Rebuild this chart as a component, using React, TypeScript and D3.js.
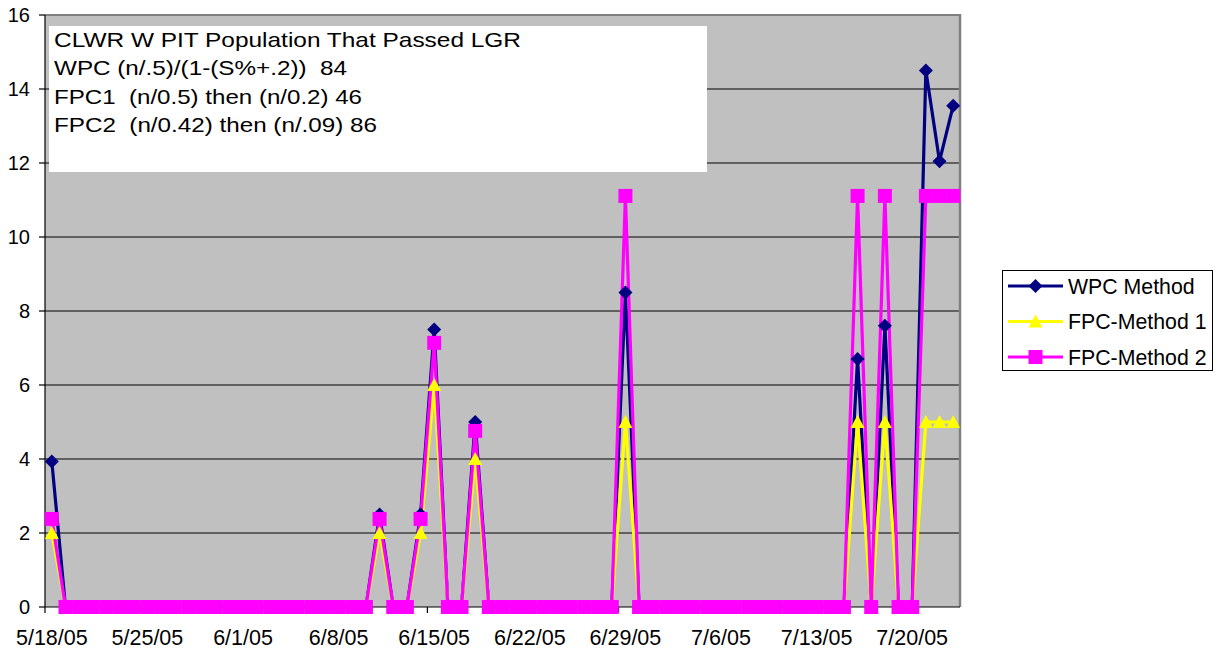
import React from "react";
import * as d3 from "d3";

// daily values, 5/18/05 .. 7/23/05
const startDate = "5/18/05";

const wpc = [
  3.93, 0, 0, 0, 0, 0, 0, 0, 0, 0,
  0, 0, 0, 0, 0, 0, 0, 0, 0, 0,
  0, 0, 0, 0, 2.5, 0, 0, 2.5, 7.5, 0,
  0, 5.0, 0, 0, 0, 0, 0, 0, 0, 0,
  0, 0, 8.5, 0, 0, 0, 0, 0, 0, 0,
  0, 0, 0, 0, 0, 0, 0, 0, 0, 6.7,
  0, 7.6, 0, 0, 14.5, 12.05, 13.55,
];

const fpc1 = [
  2, 0, 0, 0, 0, 0, 0, 0, 0, 0,
  0, 0, 0, 0, 0, 0, 0, 0, 0, 0,
  0, 0, 0, 0, 2, 0, 0, 2, 6, 0,
  0, 4, 0, 0, 0, 0, 0, 0, 0, 0,
  0, 0, 5, 0, 0, 0, 0, 0, 0, 0,
  0, 0, 0, 0, 0, 0, 0, 0, 0, 5,
  0, 5, 0, 0, 5, 5, 5,
];

const fpc2 = [
  2.38, 0, 0, 0, 0, 0, 0, 0, 0, 0,
  0, 0, 0, 0, 0, 0, 0, 0, 0, 0,
  0, 0, 0, 0, 2.38, 0, 0, 2.38, 7.14, 0,
  0, 4.76, 0, 0, 0, 0, 0, 0, 0, 0,
  0, 0, 11.11, 0, 0, 0, 0, 0, 0, 0,
  0, 0, 0, 0, 0, 0, 0, 0, 0, 11.11,
  0, 11.11, 0, 0, 11.11, 11.11, 11.11,
];

const xTickLabels = ["5/18/05", "5/25/05", "6/1/05", "6/8/05", "6/15/05", "6/22/05", "6/29/05", "7/6/05", "7/13/05", "7/20/05"];
const yTicks = [0, 2, 4, 6, 8, 10, 12, 14, 16];

const noteLines = [
  "CLWR W PIT Population That Passed LGR",
  "WPC (n/.5)/(1-(S%+.2))  84",
  "FPC1  (n/0.5) then (n/0.2) 46",
  "FPC2  (n/0.42) then (n/.09) 86",
];
const noteWidths = [467, 293, 308, 323];

const seriesNames = ["WPC Method", "FPC-Method 1", "FPC-Method 2"];
const seriesColors = ["#000080", "#FFFF00", "#FF00FF"];

const FONT = "'Liberation Sans', Arial, sans-serif";

const parse = d3.timeParse("%m/%d/%y");

const marker = (kind: number) => {
  if (kind === 0) return "M0,-7L7,0L0,7L-7,0Z";
  if (kind === 1) return "M0,-7L7,6L-7,6Z";
  return "M-7,-7L7,-7L7,7L-7,7Z";
};

export default function App() {
  const W = 1220;
  const H = 652;
  const left = 45, right = 960, top = 15, bottom = 607;

  const n = wpc.length;
  const start = parse(startDate)!;
  const x = d3.scaleLinear().domain([-0.5, n - 0.5]).range([left, right]);
  const y = d3.scaleLinear().domain([0, 16]).range([bottom, top]);

  const series = [wpc, fpc1, fpc2];
  const line = d3.line<number>().x((_, i) => x(i)).y((d) => y(d));

  const ticks = xTickLabels.map((t) => ({ label: t, day: d3.timeDay.count(start, parse(t)!) }));

  return (
    <svg width={W} height={H} style={{ display: "block", position: "absolute", left: 0, top: 0 }} fontFamily={FONT}>
      <rect x={0} y={0} width={W} height={H} fill="#fff" />
      {/* plot area */}
      <rect x={left} y={top} width={right - left} height={bottom - top} fill="#C0C0C0" />
      {yTicks.slice(1).map((t) => (
        <line key={t} x1={left} x2={right} y1={y(t)} y2={y(t)} stroke="#000" strokeWidth={1} />
      ))}
      <line x1={left} x2={right} y1={top} y2={top} stroke="#808080" strokeWidth={2} />
      <line x1={right} x2={right} y1={top - 1} y2={bottom} stroke="#808080" strokeWidth={2.5} />

      {/* note box */}
      <rect x={49} y={26} width={658} height={146} fill="#fff" />
      {noteLines.map((t, i) => (
        <text
          key={i}
          x={54}
          y={47 + i * 28.3}
          fontSize={21}
          fill="#000"
          style={{ whiteSpace: "pre" }}
          textLength={noteWidths[i]}
          lengthAdjust="spacingAndGlyphs"
        >
          {t}
        </text>
      ))}

      {/* axes */}
      <line x1={left} x2={left} y1={top} y2={bottom} stroke="#000" strokeWidth={1.2} />
      <line x1={left} x2={right} y1={bottom} y2={bottom} stroke="#000" strokeWidth={1.2} />
      {yTicks.map((t) => (
        <g key={t}>
          <line x1={left - 6} x2={left} y1={y(t)} y2={y(t)} stroke="#000" strokeWidth={1.2} />
          <text x={30} y={y(t)} dy="0.35em" textAnchor="end" fontSize={20} fill="#000">
            {t}
          </text>
        </g>
      ))}
      {ticks.map((t) => (
        <g key={t.label}>
          <line x1={x(t.day - 0.5)} x2={x(t.day - 0.5)} y1={bottom} y2={bottom + 6} stroke="#000" strokeWidth={1.2} />
          <text x={x(t.day)} y={645} textAnchor="middle" fontSize={21.5} fill="#000">
            {t.label}
          </text>
        </g>
      ))}

      {/* series lines */}
      {series.map((s, k) => (
        <path key={k} d={line(s) || ""} fill="none" stroke={seriesColors[k]} strokeWidth={3.2} strokeLinejoin="round" />
      ))}
      {/* markers */}
      {series.map((s, k) => (
        <g key={k}>
          {s.map((v, i) => (
            <path key={i} d={marker(k)} transform={`translate(${x(i)},${y(v)})`} fill={seriesColors[k]} />
          ))}
        </g>
      ))}

      {/* legend */}
      <rect x={1002.5} y={270.5} width={210} height={100} fill="#fff" stroke="#000" strokeWidth={1} />
      {seriesNames.map((name, k) => {
        const ly = 286 + k * 35.5;
        return (
          <g key={name}>
            <line x1={1008} x2={1063} y1={ly} y2={ly} stroke={seriesColors[k]} strokeWidth={3} />
            <path d={marker(k)} transform={`translate(1035.5,${ly})`} fill={seriesColors[k]} />
            <text x={1068} y={ly} dy="0.36em" fontSize={21.3} fill="#000">
              {name}
            </text>
          </g>
        );
      })}
    </svg>
  );
}
